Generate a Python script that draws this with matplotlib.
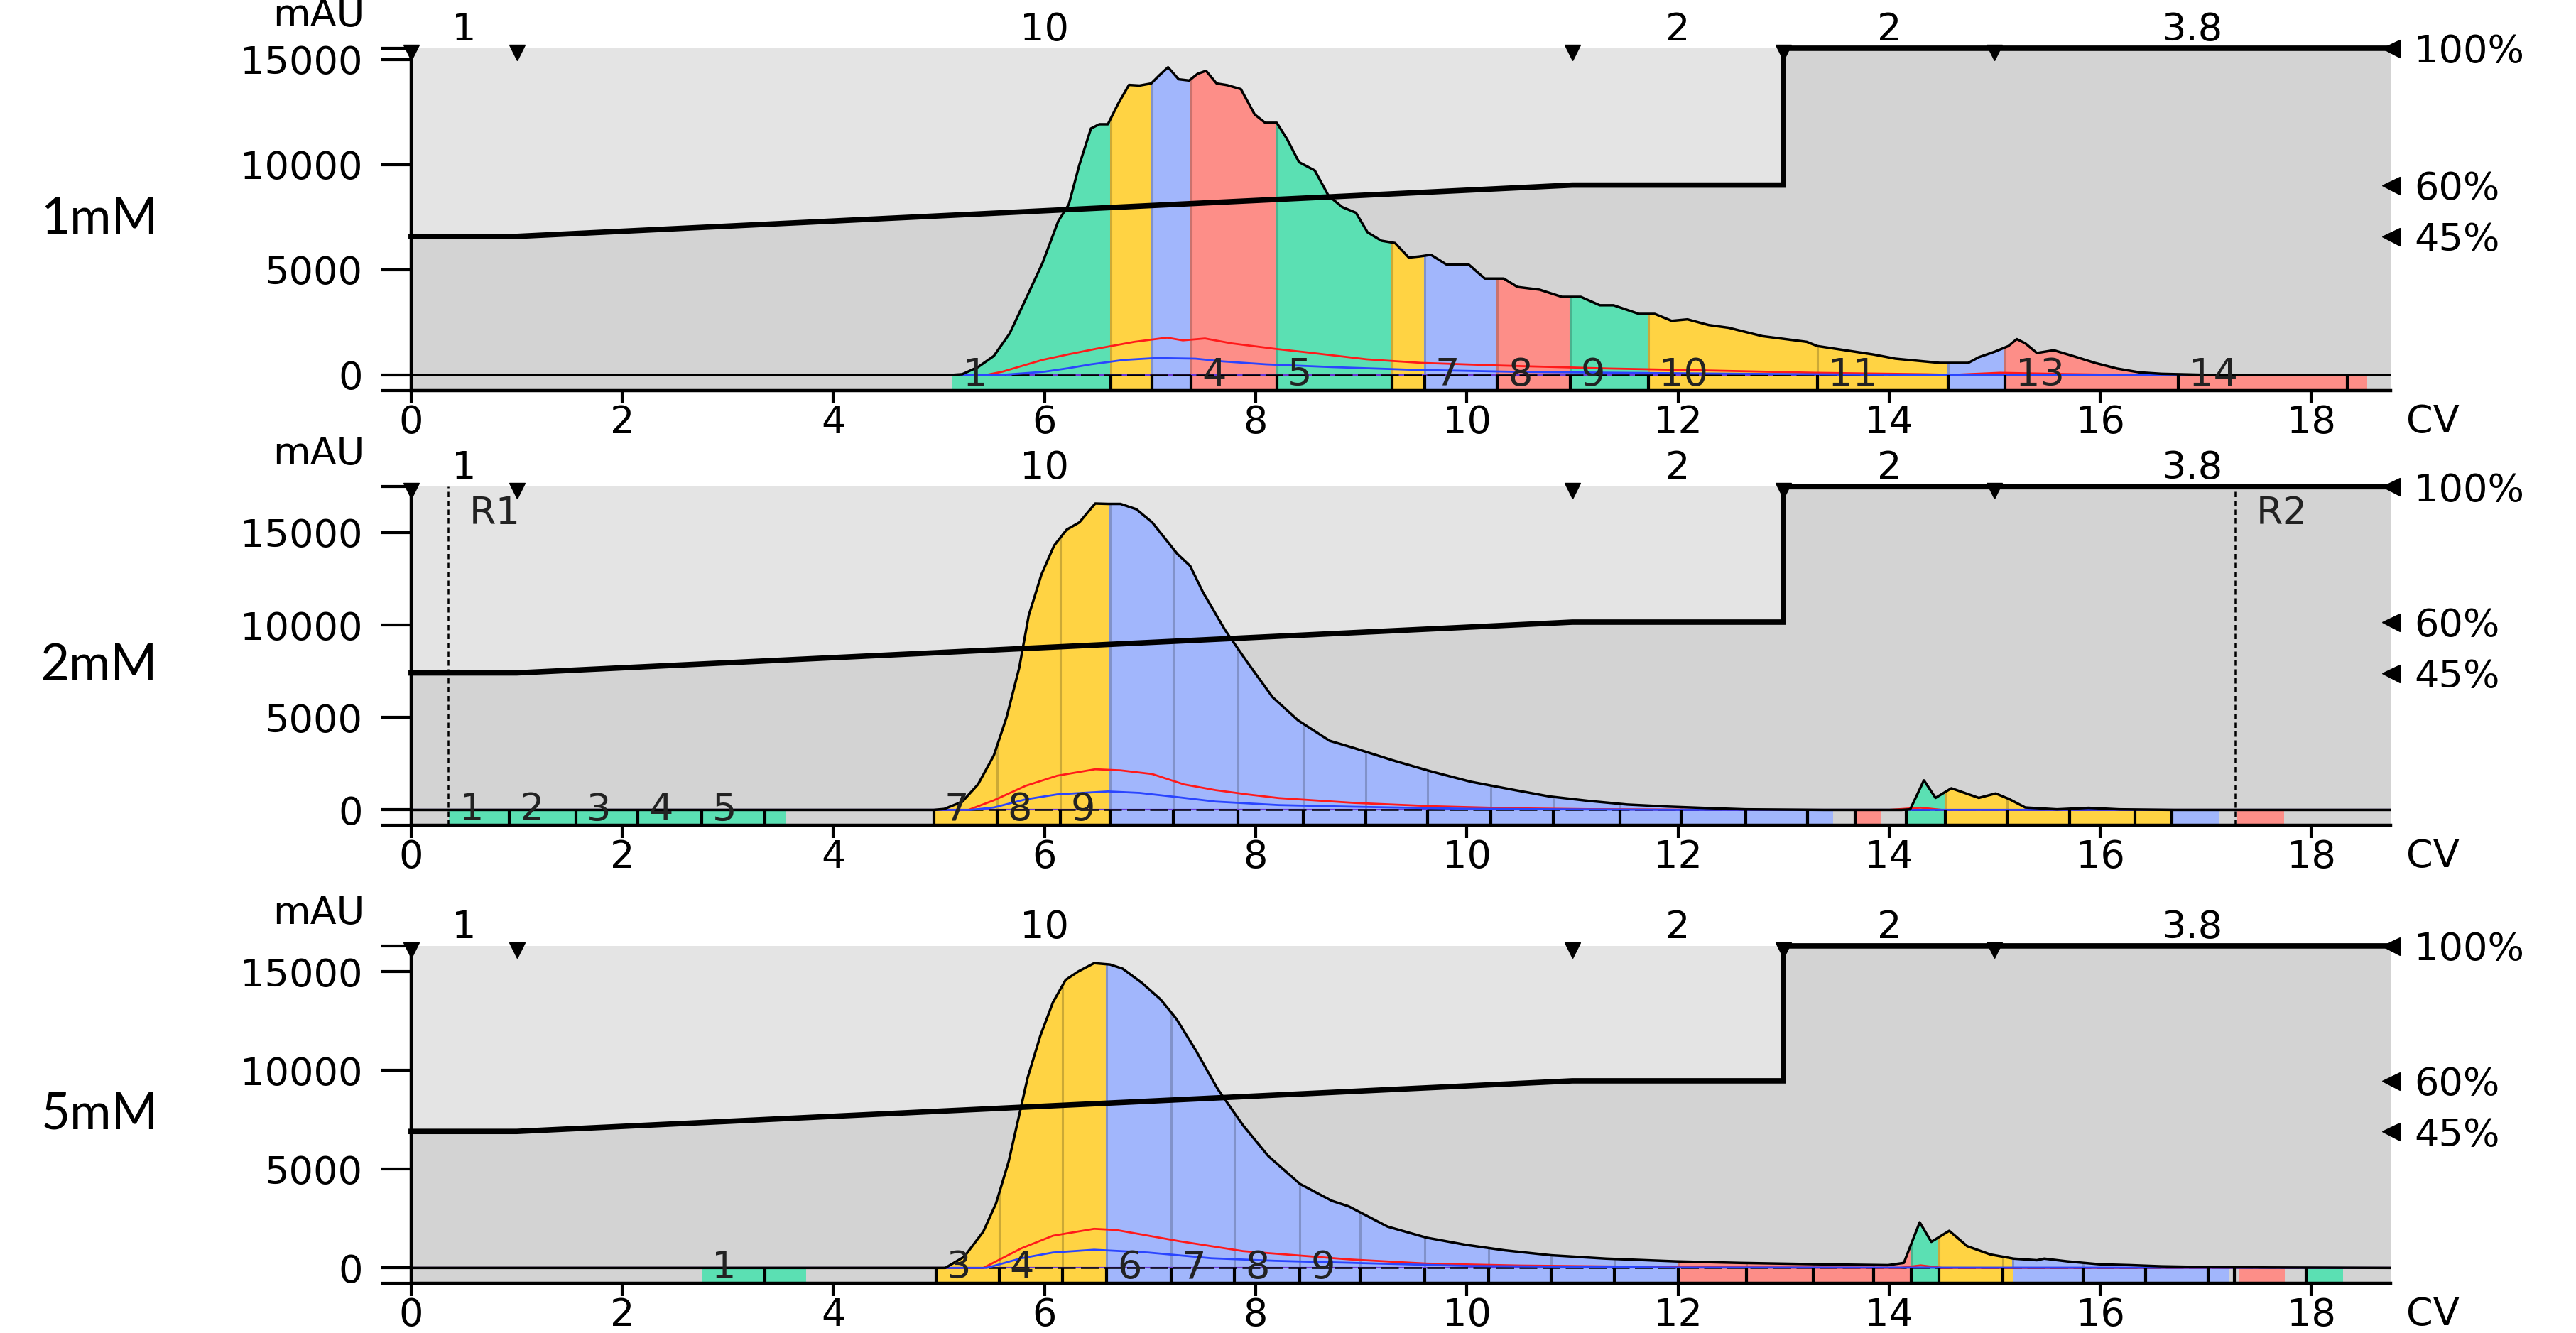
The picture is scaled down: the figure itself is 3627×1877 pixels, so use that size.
import matplotlib
matplotlib.use("Agg")
import matplotlib.pyplot as plt
from matplotlib.patches import Rectangle
from matplotlib.colors import to_rgb
import numpy as np

# ---------------- data ----------------
# method gradient (% B) and event marks, shared by the three runs
grad_cv = [0, 1, 11, 13, 13, 18.75]
grad_pct = [45, 45, 60, 60, 100, 100]
event_cv = [0, 1, 11, 13, 15]
block_labels = ['1', '10', '2', '2', '3.8']
pct_ticks = [100, 60, 45]
pct_labels = ['100%', '60%', '45%']
mau_ticks = [0, 5000, 10000, 15000]
cv_ticks = [0, 2, 4, 6, 8, 10, 12, 14, 16, 18]
run_names = ['1mM', '2mM', '5mM']

# 1 mM run
top_cv = [0, 5.13, 5.22, 5.37, 5.52, 5.67, 5.82, 5.98, 6.13, 6.23, 6.33, 6.44, 6.52, 6.6, 6.7,
          6.8, 6.9, 7.01, 7.09, 7.17, 7.27, 7.37, 7.45, 7.53, 7.63, 7.73, 7.86, 7.99, 8.09, 8.2,
          8.3, 8.41, 8.56, 8.69, 8.82, 8.95, 9.06, 9.19, 9.32, 9.45, 9.55, 9.66, 9.81, 10.02,
          10.17, 10.35, 10.48, 10.69, 10.9, 11.08, 11.26, 11.39, 11.63, 11.78, 11.94, 12.09,
          12.29, 12.48, 12.8, 13.22, 13.32, 13.85, 14.06, 14.48, 14.75, 14.85, 15.0, 15.13,
          15.21, 15.29, 15.4, 15.56, 15.74, 15.95, 16.16, 16.37, 16.58, 17.0, 18.75]
top_mau = [0, 0, 30, 370, 900, 1970, 3580, 5310, 7310, 8110, 9990, 11720, 11920, 11920, 12920,
           13790, 13760, 13860, 14260, 14630, 14060, 14000, 14320, 14460, 13860, 13780, 13590,
           12390, 11990, 11990, 11190, 10120, 9720, 8520, 7980, 7710, 6780, 6380, 6270, 5580,
           5630, 5710, 5240, 5240, 4580, 4580, 4180, 4050, 3710, 3710, 3310, 3310, 2900, 2900,
           2570, 2640, 2370, 2240, 1840, 1570, 1370, 970, 770, 570, 570, 840, 1100, 1370, 1700,
           1500, 1040, 1170, 900, 570, 300, 120, 50, 0, 0]
top_red_cv = [0, 5.45, 5.6, 5.98, 6.23, 6.49, 6.85, 7.16, 7.31, 7.52, 7.77, 8.18, 8.54, 9.05,
              9.57, 10.34, 11.36, 12.27, 13.3, 14.35, 14.6, 15.05, 15.66, 16.2, 18.75]
top_red = [0, 0, 150, 710, 980, 1240, 1570, 1770, 1640, 1730, 1500, 1240, 1040, 740, 570, 440,
           300, 210, 100, 30, 0, 100, 40, 0, 0]
top_blue_cv = [0, 5.6, 6.0, 6.23, 6.44, 6.75, 7.06, 7.43, 7.69, 8.1, 8.72, 9.49, 10.52, 12.16,
               13.5, 14.5, 18.75]
top_blue = [0, 0, 150, 320, 500, 710, 800, 770, 640, 500, 370, 240, 140, 70, 20, 0, 0]
top_frac_start = [5.13, 6.63, 7.02, 7.39, 8.2, 9.29, 9.6, 10.29, 10.98, 11.72, 13.32, 14.56,
                  15.1, 16.74, 18.34]
top_frac_end = [6.63, 7.02, 7.39, 8.2, 9.29, 9.6, 10.29, 10.98, 11.72, 13.32, 14.56, 15.1,
                16.74, 18.34, 18.53]
top_frac_color = ['g', 'y', 'b', 'r', 'g', 'y', 'b', 'r', 'g', 'y', 'y', 'b', 'r', 'r', 'r']
top_frac_label = ['1', '', '', '4', '5', '', '7', '8', '9', '10', '11', '', '13', '14', '']
top_frac_ticks = [6.63, 7.02, 7.39, 8.2, 9.29, 9.6, 10.29, 10.98, 11.72, 13.32, 14.56, 15.1,
                  16.74, 18.34]

# 2 mM run
mid_cv = [0, 4.95, 5.05, 5.22, 5.37, 5.52, 5.64, 5.76, 5.85, 5.97, 6.09, 6.21, 6.33, 6.48, 6.6,
          6.72, 6.87, 7.02, 7.26, 7.38, 7.5, 7.71, 7.92, 8.16, 8.4, 8.7, 8.93, 9.3, 9.67, 10.04,
          10.41, 10.78, 11.15, 11.52, 11.9, 12.27, 12.64, 13.38, 14.12, 14.2, 14.33, 14.44,
          14.59, 14.85, 15.01, 15.14, 15.29, 15.59, 15.89, 16.18, 16.7, 18.75]
mid_mau = [0, 0, 50, 440, 1380, 2950, 5000, 7680, 10510, 12720, 14290, 15160, 15550, 16570,
           16550, 16550, 16260, 15550, 13830, 13190, 11780, 9730, 7990, 6100, 4850, 3740, 3350,
           2680, 2070, 1520, 1120, 730, 490, 290, 180, 100, 30, 0, 0, 30, 1600, 650, 1170, 650,
           890, 580, 130, 30, 110, 30, 0, 0]
mid_red_cv = [0, 5.28, 5.52, 5.82, 6.12, 6.48, 6.72, 7.02, 7.32, 7.62, 7.92, 8.22, 8.93, 9.67,
              10.41, 11.15, 12.5, 14.0, 14.3, 14.5, 18.75]
mid_red = [0, 0, 520, 1300, 1850, 2200, 2140, 1940, 1380, 1070, 840, 640, 380, 200, 90, 40, 0,
           0, 120, 0, 0]
mid_blue_cv = [0, 5.3, 5.52, 5.82, 6.12, 6.6, 6.9, 7.26, 7.62, 8.22, 8.93, 10.0, 12.0, 18.75]
mid_blue = [0, 0, 130, 570, 840, 1000, 920, 690, 450, 260, 170, 60, 0, 0]
mid_frac_start = [0.36, 0.93, 1.56, 2.15, 2.75, 3.35, 4.95, 5.55, 6.15, 6.62, 7.22, 7.83, 8.45,
                  9.04, 9.63, 10.23, 10.82, 11.45, 12.03, 12.64, 13.23, 13.68, 14.16, 14.53,
                  15.12, 15.71, 16.33, 16.68, 17.3]
mid_frac_end = [0.93, 1.56, 2.15, 2.75, 3.35, 3.55, 5.55, 6.15, 6.62, 7.22, 7.83, 8.45, 9.04,
                9.63, 10.23, 10.82, 11.45, 12.03, 12.64, 13.23, 13.47, 13.92, 14.53, 15.12,
                15.71, 16.33, 16.68, 17.13, 17.74]
mid_frac_color = ['g'] * 6 + ['y'] * 3 + ['b'] * 12 + ['r', 'g'] + ['y'] * 4 + ['b', 'r']
mid_frac_label = ['1', '2', '3', '4', '5', '', '7', '8', '9'] + [''] * 20
mid_frac_ticks = [0.93, 1.56, 2.15, 2.75, 3.35, 4.95, 5.55, 6.15, 6.62, 7.22, 7.83, 8.45, 9.04,
                  9.63, 10.23, 10.82, 11.45, 12.03, 12.64, 13.23, 13.68, 14.16, 14.53, 15.12,
                  15.71, 16.33, 16.68]
mid_runs_cv = [0.35, 17.28]
mid_runs_label = ['R1', 'R2']

# 5 mM run
bot_cv = [0, 4.95, 5.06, 5.24, 5.42, 5.54, 5.66, 5.75, 5.84, 5.96, 6.08, 6.2, 6.32, 6.47, 6.62,
          6.74, 6.92, 7.1, 7.25, 7.43, 7.64, 7.88, 8.12, 8.42, 8.72, 8.88, 9.25, 9.62, 9.99,
          10.36, 10.8, 11.32, 11.99, 12.58, 13.33, 13.99, 14.14, 14.29, 14.4, 14.57, 14.74,
          14.96, 15.18, 15.4, 15.47, 15.69, 15.99, 16.29, 16.58, 17.02, 17.6, 18.75]
bot_mau = [0, 0, 0, 570, 1840, 3260, 5380, 7500, 9630, 11750, 13450, 14580, 15010, 15430,
           15360, 15150, 14440, 13590, 12600, 11040, 9060, 7220, 5660, 4250, 3400, 3120, 2090,
           1530, 1170, 890, 640, 470, 330, 255, 185, 140, 255, 2310, 1320, 1880, 1100, 680,
           470, 390, 470, 330, 185, 140, 80, 40, 20, 0]
bot_red_cv = [0, 5.42, 5.78, 6.08, 6.47, 6.68, 7.28, 7.88, 8.89, 9.62, 10.5, 12.0, 14.1, 14.3,
              14.5, 18.75]
bot_red = [0, 0, 990, 1630, 1980, 1920, 1350, 850, 430, 220, 120, 40, 0, 130, 0, 0]
bot_blue_cv = [0, 5.45, 5.78, 6.08, 6.47, 6.98, 7.58, 8.18, 8.89, 10.0, 12.0, 18.75]
bot_blue = [0, 0, 490, 780, 920, 780, 490, 360, 260, 100, 20, 0]
bot_frac_start = [2.75, 3.35, 4.97, 5.57, 6.17, 6.59, 7.2, 7.8, 8.42, 8.99, 9.6, 10.21, 10.8,
                  11.4, 12.0, 12.65, 13.28, 13.85, 14.21, 14.47, 15.08, 15.17, 15.84, 16.43,
                  17.02, 17.32, 17.95]
bot_frac_end = [3.35, 3.74, 5.57, 6.17, 6.59, 7.2, 7.8, 8.42, 8.99, 9.6, 10.21, 10.8, 11.4,
                12.0, 12.65, 13.28, 13.85, 14.21, 14.47, 15.08, 15.17, 15.84, 16.43, 17.02,
                17.22, 17.75, 18.3]
bot_frac_color = ['g', 'g', 'y', 'y', 'y'] + ['b'] * 9 + ['r'] * 4 + ['g', 'y', 'y'] + ['b'] * 4 + ['r', 'g']
bot_frac_label = ['1', '', '3', '4', '', '6', '7', '8', '9'] + [''] * 18
bot_frac_ticks = [3.35, 4.97, 5.57, 6.17, 6.59, 7.2, 7.8, 8.42, 8.99, 9.6, 10.21, 10.8, 11.4,
                  12.0, 12.65, 13.28, 13.85, 14.21, 14.47, 15.08, 15.84, 16.43, 17.02, 17.27,
                  17.95]

# ---------------- style / layout ----------------
plt.rcParams['font.family'] = ['DejaVu Sans']
FS = 39
FRAC_COLORS = {'g': '#5be0b3', 'y': '#ffd343', 'b': '#a1b6fc', 'r': '#fd8e88'}
LIGHT = '#e4e4e4'
DARK = '#d3d3d3'
XMAX = 18.75
AX_LEFT, AX_W = 0.1596, 0.7684
panel_rects = [[AX_LEFT, 0.7072, AX_W, 0.2566],
               [AX_LEFT, 0.3809, AX_W, 0.2540],
               [AX_LEFT, 0.0373, AX_W, 0.2531]]
panel_ylims = [(-735, 15534), (-830, 17480), (-778, 16302)]
name_frac_y = [0.5, 0.47, 0.5]

fig = plt.figure(figsize=(36.27, 18.77), dpi=100)


def darker(c, f=0.8):
    r, g, b = to_rgb(c)
    return (r * f, g * f, b * f)


def draw_panel(i, cv, mau, red_cv, red, blue_cv, blue, f_start, f_end, f_col, f_lab, f_ticks,
               runs_cv=(), runs_label=()):
    ymin, ymax = panel_ylims[i]
    ax = fig.add_axes(panel_rects[i])
    ax.set_xlim(0, XMAX)
    ax.set_ylim(ymin, ymax)
    ax.set_facecolor(LIGHT)
    xt = ax.get_xaxis_transform()

    # gradient shading and line (y in axes fraction = % B)
    gfrac = np.array(grad_pct) / 100.0
    ax.fill_between(grad_cv, 0, gfrac, transform=xt, color=DARK, lw=0, zorder=0.5)
    ax.plot(grad_cv, gfrac, transform=xt, color='k', lw=5.5, zorder=7, clip_on=False,
            solid_joinstyle='miter')

    # fraction colouring under the curve and in the strip below zero
    f_start = np.array(f_start)
    f_end = np.array(f_end)
    cols = [FRAC_COLORS[c] for c in f_col]
    for s, e, c in zip(f_start, f_end, cols):
        pc = ax.fill_between(cv, 0, mau, facecolor=c, lw=0, zorder=1)
        pc.set_clip_path(Rectangle((s, ymin), e - s, ymax - ymin, transform=ax.transData))
    ax.bar(f_start, 0 - ymin, width=f_end - f_start, bottom=ymin, align='edge',
           color=cols, lw=0, zorder=1)
    under = ax.fill_between(cv, 0, mau, facecolor='none', lw=0, zorder=1)
    seps = ax.vlines(f_start[1:], 0, ymax, colors=[darker(c) for c in cols[1:]], lw=2.2,
                     zorder=1.2)
    seps.set_clip_path(under.get_paths()[0], ax.transData)

    # baseline
    ax.axhline(0, color='#6a3ad8', lw=1.6, zorder=3)
    ax.axhline(0, color='k', lw=1.8, ls=(0, (10, 3)), zorder=3.1)

    # detector traces
    ax.plot(red_cv, red, color='#ff1a1a', lw=2, zorder=3.5)
    ax.plot(blue_cv, blue, color='#2a45ff', lw=2, zorder=3.5)
    ax.plot(cv, mau, color='k', lw=2.5, zorder=4)

    # fraction ticks and numbers
    ax.vlines(f_ticks, ymin, 0, color='k', lw=3, zorder=4.5)
    for s, lab in zip(f_start, f_lab):
        if lab:
            ax.text(s + 0.1, 0, lab, ha='left', va='center', fontsize=FS, color='#222222',
                    zorder=5)

    # run markers
    for rx, rl in zip(runs_cv, runs_label):
        ax.axvline(rx, color='k', lw=1.8, ls=(0, (3, 2)), zorder=6)
        ax.annotate(rl, xy=(rx + 0.2, 1), xycoords=xt, xytext=(0, -27),
                    textcoords='offset points', ha='left', va='center', fontsize=FS,
                    color='#222222', annotation_clip=False)

    # method events on top
    ax.plot(event_cv, [0.987] * len(event_cv), transform=xt, ls='none', marker='v', ms=16,
            color='k', clip_on=False, zorder=8)
    edges = list(event_cv) + [XMAX]
    for j, lab in enumerate(block_labels):
        ax.annotate(lab, xy=((edges[j] + edges[j + 1]) / 2, 1), xycoords=xt, xytext=(0, 19),
                    textcoords='offset points', ha='center', va='center', fontsize=FS,
                    annotation_clip=False)

    # axes styling
    for side in ['top', 'right']:
        ax.spines[side].set_visible(False)
    for side in ['left', 'bottom']:
        ax.spines[side].set_linewidth(3.2)
        ax.spines[side].set_zorder(6)
    ax.set_yticks([ymin] + mau_ticks + [ymax],
                  labels=[''] + [str(t) for t in mau_ticks] + [''])
    ax.set_xticks(cv_ticks, labels=[str(t) for t in cv_ticks])
    ax.tick_params(axis='y', length=31, width=3, pad=18, labelsize=FS)
    ax.tick_params(axis='x', length=13, width=3, pad=1, labelsize=FS)
    ax.annotate('mAU', xy=(0, 1), xycoords='axes fraction', xytext=(-47, 33),
                textcoords='offset points', ha='right', va='center', fontsize=FS,
                annotation_clip=False)
    ax.annotate('CV', xy=(19.15, 0), xycoords=xt, xytext=(0, -32),
                textcoords='offset points', ha='center', va='center', fontsize=FS,
                annotation_clip=False)

    # % B axis on the right
    sec = ax.secondary_yaxis('right', functions=(
        lambda y: (y - ymin) / (ymax - ymin) * 100.0,
        lambda p: ymin + p / 100.0 * (ymax - ymin)))
    sec.set_ticks(pct_ticks, labels=pct_labels)
    sec.tick_params(length=0, pad=24, labelsize=FS)
    sec.spines['right'].set_visible(False)
    ax.plot([XMAX] * len(pct_ticks), np.array(pct_ticks) / 100.0, transform=xt, ls='none',
            marker='<', ms=18, color='k', clip_on=False, zorder=8)

    pos = ax.get_position()
    fig.text(0.0157, pos.y0 + pos.height * name_frac_y[i], run_names[i], fontsize=51,
             family=['Lato', 'DejaVu Sans'], ha='left', va='center')
    return ax


draw_panel(0, top_cv, top_mau, top_red_cv, top_red, top_blue_cv, top_blue,
           top_frac_start, top_frac_end, top_frac_color, top_frac_label, top_frac_ticks)
draw_panel(1, mid_cv, mid_mau, mid_red_cv, mid_red, mid_blue_cv, mid_blue,
           mid_frac_start, mid_frac_end, mid_frac_color, mid_frac_label, mid_frac_ticks,
           mid_runs_cv, mid_runs_label)
draw_panel(2, bot_cv, bot_mau, bot_red_cv, bot_red, bot_blue_cv, bot_blue,
           bot_frac_start, bot_frac_end, bot_frac_color, bot_frac_label, bot_frac_ticks)

fig.savefig('out.png', dpi=100, facecolor='white')
